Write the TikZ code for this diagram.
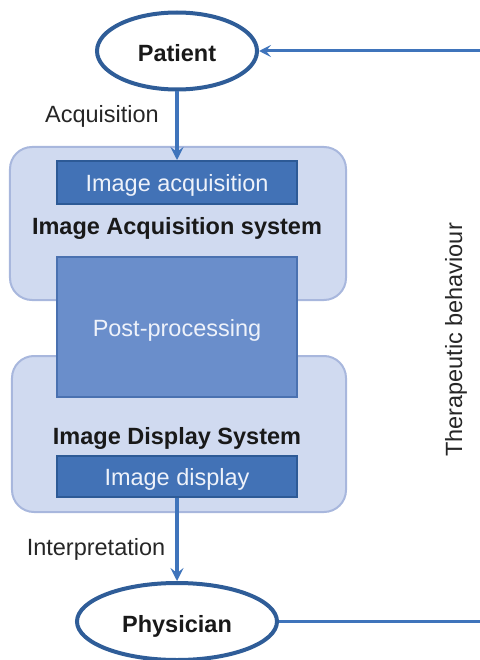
\documentclass[tikz,border=0pt]{standalone}
\usepackage{fontspec}
\setmainfont{Liberation Sans}
\usetikzlibrary{shapes.geometric,arrows.meta}
\definecolor{sysfill}{HTML}{D0DAF0}
\definecolor{sysdraw}{HTML}{A8B7DD}
\definecolor{darkfill}{HTML}{4272B6}
\definecolor{darkdraw}{HTML}{2D5A96}
\definecolor{postfill}{HTML}{6A8ECB}
\definecolor{postdraw}{HTML}{4A71B0}
\definecolor{arrcol}{HTML}{3F74BB}
\definecolor{ellcol}{HTML}{2F5D98}
\definecolor{lighttext}{HTML}{EEF2FA}
\tikzset{
  txt/.style={font=\fontsize{23.5bp}{27bp}\selectfont, text=black!85, anchor=base},
  btxt/.style={font=\fontsize{23.5bp}{27bp}\selectfont\bfseries, text=black!90, anchor=base},
  sysbox/.style={draw=sysdraw, fill=sysfill, line width=2bp, rounded corners=22bp, inner sep=0pt},
  darkbox/.style={draw=darkdraw, fill=darkfill, line width=2bp, inner sep=0pt, minimum width=240bp,
    text=lighttext, font=\fontsize{23.5bp}{27bp}\selectfont, text height=18.5bp, text depth=0pt},
  postbox/.style={draw=postdraw, fill=postfill, line width=2bp, inner sep=0pt, minimum width=240bp,
    text=lighttext, font=\fontsize{23.5bp}{27bp}\selectfont, text height=18bp, text depth=0pt},
  actor/.style={ellipse, draw=ellcol, fill=white, line width=4bp, inner sep=0pt,
    font=\fontsize{23.5bp}{27bp}\selectfont\bfseries, text=black!90, text height=22bp, text depth=0pt},
  arr/.style={draw=arrcol, line width=4bp, -{Stealth[length=13bp, width=13bp, inset=5bp]}},
  harr/.style={draw=arrcol, line width=3bp, -{Stealth[length=12bp, width=12bp, inset=5bp]}},
  hline/.style={draw=arrcol, line width=3bp}
}
\begin{document}
\begin{tikzpicture}[x=1bp, y=-1bp]
\useasboundingbox (0,0) rectangle (480,660);
\node[sysbox, minimum width=336bp, minimum height=153bp] (acqsys) at (178,223.5) {};
\node[sysbox, minimum width=334bp, minimum height=156bp] (dispsys) at (179,434) {};
\node[postbox, minimum height=140bp] (post) at (177,327) {Post-processing};
\node[darkbox, minimum height=43bp] (acq) at (177,182.5) {Image acquisition};
\node[darkbox, minimum height=41bp] (disp) at (177,476.5) {Image display};
\node[btxt] (acqsyslbl) at (177,234) {Image Acquisition system};
\node[btxt] (dispsyslbl) at (177,444) {Image Display System};
\node[actor, minimum width=160bp, minimum height=77bp] (patient) at (177,51) {Patient};
\node[actor, minimum width=200bp, minimum height=77bp] (physician) at (177,621.5) {Physician};
\node[txt] (acqlbl) at (102,123) {Acquisition};
\node[txt] (intlbl) at (96,555) {Interpretation};
\node[txt, rotate=90] (therlbl) at (462,340) {Therapeutic behaviour};
\coordinate (rpat) at (481,51);
\coordinate (rphys) at (481,621.5);
\draw[arr] (patient.south) -- (acq.north);
\draw[arr] (disp.south) -- (physician.north);
\draw[hline] (physician.east) -- (rphys);
\draw[harr] (rpat) -- (patient.east);
\end{tikzpicture}
\end{document}
